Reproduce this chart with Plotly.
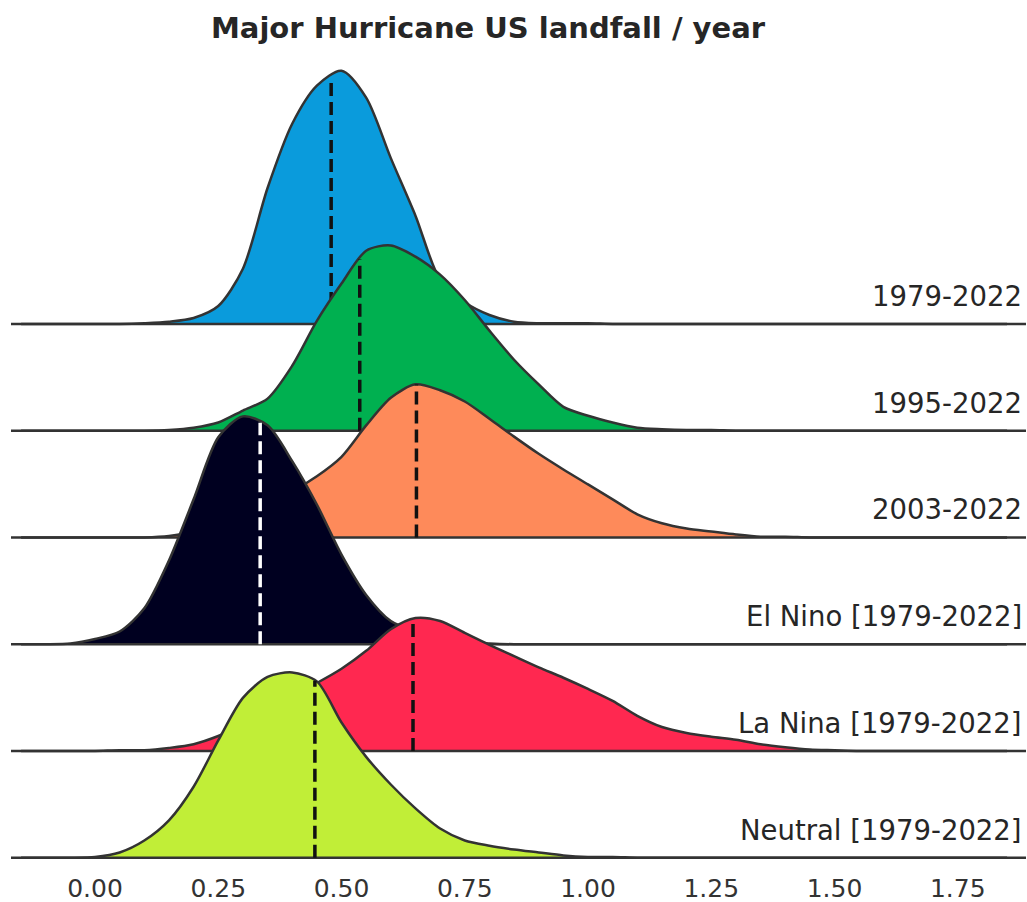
import numpy as np
import plotly.graph_objects as go

# Shared x grid (major hurricane US landfalls / year)
X = [-0.15, -0.10, -0.05, 0.00, 0.05, 0.10, 0.15, 0.20, 0.25, 0.30,
     0.35, 0.40, 0.45, 0.50, 0.55, 0.60, 0.65, 0.70, 0.75, 0.80,
     0.85, 0.90, 0.95, 1.00, 1.05, 1.10, 1.15, 1.20, 1.25, 1.30,
     1.35, 1.40, 1.45, 1.50, 1.55, 1.60, 1.65, 1.70, 1.75, 1.80, 1.85]

LABELS = ["1979-2022", "1995-2022", "2003-2022",
          "El Nino [1979-2022]", "La Nina [1979-2022]", "Neutral [1979-2022]"]

D_1979 = [0, 0, 0, 0, 0, 0.01, 0.03, 0.08, 0.24, 0.74,
          1.82, 2.68, 3.19, 3.39, 3.03, 2.22, 1.45, 0.59, 0.29, 0.12,
          0.03, 0.01, 0.01, 0.01, 0, 0, 0, 0, 0, 0,
          0, 0, 0, 0, 0, 0, 0, 0, 0, 0, 0]
D_1995 = [0, 0, 0, 0, 0, 0, 0.01, 0.04, 0.11, 0.27,
          0.43, 0.87, 1.47, 1.97, 2.41, 2.48, 2.33, 2.09, 1.75, 1.34,
          0.95, 0.62, 0.32, 0.20, 0.11, 0.04, 0.02, 0.01, 0.01, 0,
          0, 0, 0, 0, 0, 0, 0, 0, 0, 0, 0]
D_2003 = [0, 0, 0, 0, 0, 0, 0.02, 0.08, 0.20, 0.35,
          0.48, 0.62, 0.82, 1.08, 1.50, 1.87, 2.05, 1.97, 1.82, 1.59,
          1.35, 1.12, 0.91, 0.71, 0.51, 0.31, 0.19, 0.12, 0.08, 0.04,
          0.01, 0.01, 0, 0, 0, 0, 0, 0, 0, 0, 0]
D_ELNINO = [0, 0, 0.01, 0.07, 0.17, 0.48, 1.12, 1.94, 2.77, 3.05,
            2.93, 2.45, 1.87, 1.20, 0.66, 0.31, 0.17, 0.08, 0.03, 0.01,
            0, 0, 0, 0, 0, 0, 0, 0, 0, 0,
            0, 0, 0, 0, 0, 0, 0, 0, 0, 0, 0]
D_LANINA = [0, 0, 0, 0, 0.01, 0.01, 0.04, 0.09, 0.20, 0.35,
            0.54, 0.74, 0.91, 1.10, 1.34, 1.63, 1.78, 1.74, 1.58, 1.42,
            1.27, 1.12, 0.98, 0.83, 0.67, 0.47, 0.32, 0.24, 0.19, 0.15,
            0.09, 0.05, 0.02, 0.01, 0, 0, 0, 0, 0, 0, 0]
D_NEUTRAL = [0, 0, 0, 0.01, 0.07, 0.23, 0.50, 0.95, 1.57, 2.14,
             2.42, 2.48, 2.36, 1.81, 1.35, 0.98, 0.66, 0.39, 0.23, 0.16,
             0.11, 0.07, 0.03, 0.01, 0.01, 0, 0, 0, 0, 0,
             0, 0, 0, 0, 0, 0, 0, 0, 0, 0, 0]

MEANS = [0.479, 0.537, 0.652, 0.335, 0.645, 0.446]

TICK_VALS = [0.00, 0.25, 0.50, 0.75, 1.00, 1.25, 1.50, 1.75]
TICK_TEXT = ["0.00", "0.25", "0.50", "0.75", "1.00", "1.25", "1.50", "1.75"]

DENSITIES = [D_1979, D_1995, D_2003, D_ELNINO, D_LANINA, D_NEUTRAL]
COLORS = ["#0a9bdc", "#00b050", "#fe8a5a", "#000020", "#ff2850", "#c1ee37"]
DASH_COLORS = ["#111111", "#111111", "#111111", "#ffffff", "#111111", "#111111"]

SPACING = 1.429
X_LO, X_HI = -0.1704, 1.8884
EDGE = "#333333"

fig = go.Figure()
n = len(LABELS)
for i in range(n):
    off = (n - 1 - i) * SPACING
    dens = DENSITIES[i]
    # baseline of the ridge (fill reference)
    fig.add_trace(go.Scatter(x=[X_LO, X_HI], y=[off, off], mode="lines",
                             line=dict(color=EDGE, width=2.5),
                             hoverinfo="skip", showlegend=False))
    # density curve, filled down to the baseline
    fig.add_trace(go.Scatter(x=X, y=[off + d for d in dens], mode="lines",
                             fill="tonexty", fillcolor=COLORS[i],
                             line=dict(color=EDGE, width=2.5, shape="spline", smoothing=0.8),
                             name=LABELS[i], showlegend=False))
    top = off + float(np.interp(MEANS[i], X, dens))
    fig.add_trace(go.Scatter(x=[MEANS[i], MEANS[i]], y=[off, top], mode="lines",
                             line=dict(color=DASH_COLORS[i], width=3.5, dash="13px,6px"),
                             hoverinfo="skip", showlegend=False))
    fig.add_annotation(x=1, xref="paper", y=off, yref="y", text=LABELS[i],
                       showarrow=False, xanchor="right", yanchor="middle",
                       yshift=28, xshift=-2,
                       font=dict(family="DejaVu Sans", size=27.5, color="#262626"))

fig.update_layout(
    width=1027, height=902,
    margin=dict(l=11, r=1, t=0, b=40),
    paper_bgcolor="white", plot_bgcolor="white",
    title=dict(text="<b>Major Hurricane US landfall / year</b>",
               x=488 / 1027, xanchor="center", xref="container",
               y=1 - 28 / 902, yanchor="middle", yref="container",
               font=dict(family="DejaVu Sans", size=29, color="#262626")),
    xaxis=dict(range=[X_LO, X_HI], showgrid=False, zeroline=False, showline=False,
               tickvals=TICK_VALS, ticktext=TICK_TEXT, ticks="",
               ticklabelstandoff=9,
               tickfont=dict(family="DejaVu Sans", size=25, color="#333333")),
    yaxis=dict(range=[-0.0576, 11.482], visible=False, showgrid=False, zeroline=False),
)

fig.write_html("out.html", config={"displayModeBar": False},
               post_script="document.body.style.margin='0px';document.body.style.overflow='hidden';")
